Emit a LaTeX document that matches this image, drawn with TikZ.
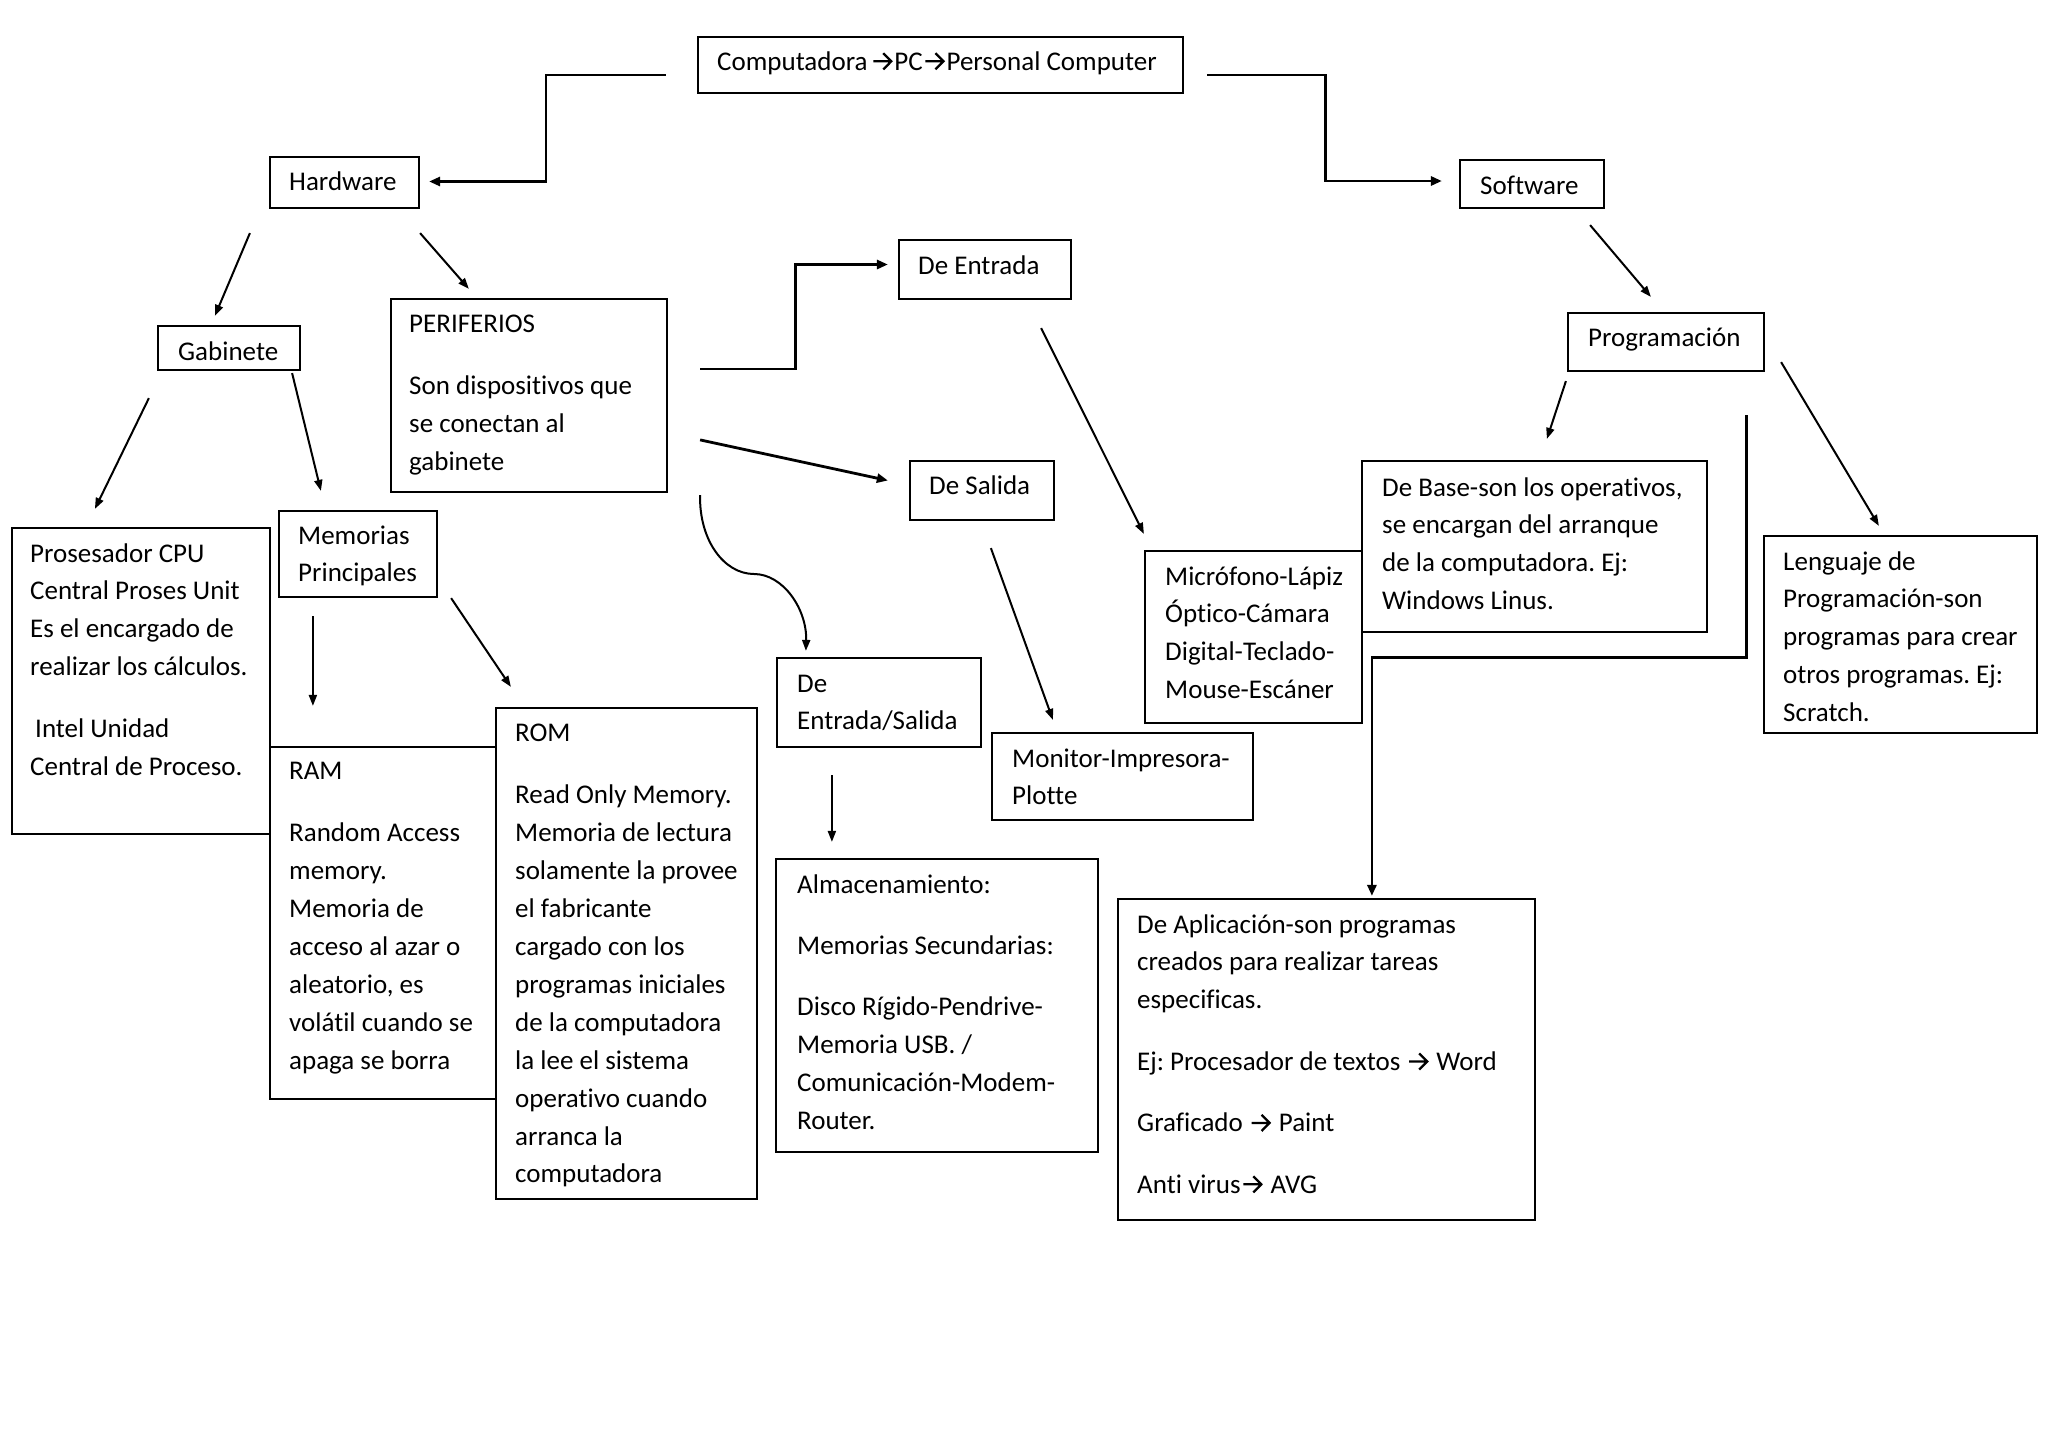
\documentclass[tikz,border=0pt]{standalone}
\usepackage{fontspec}
\setmainfont[Ligatures={NoCommon}]{Carlito}
\usetikzlibrary{arrows.meta,calc,fit}
\newcommand\ar{\hspace{1.5pt}\tikz[baseline=0pt]\draw[line width=2.3pt, line cap=butt, line join=miter] (0pt,8.7pt) -- (18pt,8.7pt) (10pt,0.6pt) -- (18pt,8.7pt) -- (10pt,16.8pt);\hspace{2pt}}
\newcommand\tl[1]{\begin{tabular}[t]{@{}l@{}}#1\end{tabular}}
\frenchspacing
\begin{document}
\begin{tikzpicture}[x=1pt,y=-1pt,
  boxst/.style={draw, line width=2.2pt, inner sep=0pt},
  txt/.style={inner sep=0pt, anchor=base west, font=\fontsize{27pt}{37.9pt}\selectfont\frenchspacing},
  conn/.style={line width=2pt, -{Triangle[length=11pt,width=8pt]}},
  elbow/.style={line width=2.8pt, -{Triangle[length=11pt,width=9pt]}}]
\fill[white] (0,0) rectangle (2048,1448);
\useasboundingbox (0,0) rectangle (2048,1448);

% boxes
\node[boxst, fit={(698,37) (1183,93)}] (comp) {};
\node[boxst, fit={(270,157) (419,208)}] (hw) {};
\node[boxst, fit={(1460,160) (1604,208)}] (sw) {};
\node[boxst, fit={(158,326) (300,370)}] (gab) {};
\node[boxst, fit={(391,299) (667,492)}] (peri) {};
\node[boxst, fit={(899,240) (1071,299)}] (de) {};
\node[boxst, fit={(910,461) (1054,520)}] (ds) {};
\node[boxst, fit={(1568,313) (1764,371)}] (prog) {};
\node[boxst, fit={(12,528) (270,834)}] (proc) {};
\node[boxst, fit={(279,511) (437,597)}] (mem) {};
\node[boxst, fit={(270,747) (496,1099)}] (ram) {};
\node[boxst, fit={(496,708) (757,1199)}] (rom) {};
\node[boxst, fit={(777,658) (981,747)}] (des) {};
\node[boxst, fit={(992,733) (1253,820)}] (mon) {};
\node[boxst, fit={(1145,551) (1362,723)}] (mic) {};
\node[boxst, fit={(1362,461) (1707,632)}] (base) {};
\node[boxst, fit={(1764,536) (2037,733)}] (leng) {};
\node[boxst, fit={(776,859) (1098,1152)}] (alm) {};
\node[boxst, fit={(1118,899) (1535,1220)}] (apl) {};

% texts
\node[txt] (comp-t) at (717,70) {Computadora\hspace{3pt}\ar PC\ar Personal Computer};
\node[txt] (hw-t) at (289,190) {Hardware};
\node[txt] (sw-t) at (1480,194) {Software};
\node[txt] (gab-t) at (178,360) {Gabinete};
\node[txt] (peri-t) at (409,332) {\tl{PERIFERIOS\\[25pt] Son dispositivos que\\ se conectan al\\ gabinete}};
\node[txt] (de-t) at (918,274) {De Entrada};
\node[txt] (ds-t) at (929,494) {De Salida};
\node[txt] (prog-t) at (1588,346) {Programación};
\node[txt] (proc-t) at (30,562) {\tl{Prosesador CPU\\ Central Proses Unit\\ Es el encargado de\\ realizar los cálculos.\\[24pt] \hspace{5pt}Intel Unidad\\ Central de Proceso.}};
\node[txt] (mem-t) at (298,544) {\tl{Memorias\\ Principales}};
\node[txt] (ram-t) at (289,779) {\tl{RAM\\[25pt] Random Access\\ memory.\\ Memoria de\\ acceso al azar o\\ aleatorio, es\\ volátil cuando se\\ apaga se borra}};
\node[txt] (rom-t) at (515,741) {\tl{ROM\\[25pt] Read Only Memory.\\ Memoria de lectura\\ solamente la provee\\ el fabricante\\ cargado con los\\ programas iniciales\\ de la computadora\\ la lee el sistema\\ operativo cuando\\ arranca la\\ computadora}};
\node[txt] (des-t) at (797,692) {\tl{De\\ Entrada/Salida}};
\node[txt] (mon-t) at (1012,767) {\tl{Monitor-Impresora-\\ Plotte}};
\node[txt] (mic-t) at (1165,585) {\tl{Micrófono-Lápiz\\ Óptico-Cámara\\ Digital-Teclado-\\ Mouse-Escáner}};
\node[txt] (base-t) at (1382,496) {\tl{De Base-son los operativos,\\ se encargan del arranque\\ de la computadora. Ej:\\ Windows Linus.}};
\node[txt] (leng-t) at (1783,570) {\tl{Lenguaje de\\ Programación-son\\ programas para crear\\ otros programas. Ej:\\ Scratch.}};
\node[txt] (alm-t) at (797,893) {\tl{Almacenamiento:\\[23.5pt] Memorias Secundarias:\\[23.5pt] Disco Rígido-Pendrive-\\ Memoria USB. /\\ Comunicación-Modem-\\ Router.}};
\node[txt] (apl-t) at (1137,933) {\tl{De Aplicación-son programas\\ creados para realizar tareas\\ especificas.\\[23.5pt] Ej: Procesador de textos \ar{} Word\\[23.5pt] Graficado \ar{} Paint\\[23.5pt] Anti virus\ar{} AVG}};

% connectors
\draw[elbow] ($(comp.west)+(-31,10)$) -- ++(-120,0) |- ($(hw.east)+(9,-1)$);
\draw[elbow] ($(comp.east)+(23,10)$) -- ++(118,0) |- ($(sw.west)+(-17,-3)$);
\draw[conn] ($(hw.south west)+(-19,24)$) -- ($(gab.north west)+(58,-9)$);
\draw[conn] ($(hw.south east)+(0,24)$) -- ($(peri.north west)+(79,-9)$);
\draw[conn] ($(gab.south west)+(-8,27)$) -- ($(proc.north west)+(84,-18)$);
\draw[conn] ($(gab.south east)+(-9,2)$) -- ($(mem.north west)+(43,-19)$);
\draw[conn] ($(mem.south west)+(35,18)$) -- ($(ram.north west)+(44,-40)$);
\draw[conn] ($(mem.south east)+(13,0)$) -- ($(rom.north west)+(16,-20)$);
\draw[elbow] ($(peri.north east)+(32,71)$) -- ++(95,0) |- ($(de.west)+(-10,-5)$);
\draw[elbow] ($(peri.north east)+(32,142)$) -- ($(ds.west)+(-21,-10)$);
\draw[conn] ($(peri.south east)+(32,2)$) .. controls (699,540) and (724,574) .. (754,574)
   .. controls (783,574) and (807,609) .. ($(des.north west)+(30,-6)$);
\draw[conn] ($(des.south west)+(56,27)$) -- ($(alm.north west)+(57,-16)$);
\draw[conn] ($(de.south east)+(-31,28)$) -- ($(mic.north west)+(0,-16)$);
\draw[conn] ($(ds.south west)+(82,27)$) -- ($(mon.north west)+(62,-12)$);
\draw[conn] ($(sw.south east)+(-15,16)$) -- ($(prog.north west)+(84,-15)$);
\draw[conn] ($(prog.south west)+(-1,9)$) -- ($(base.north west)+(186,-21)$);
\draw[conn] ($(prog.south east)+(16,-10)$) -- ($(leng.north west)+(116,-9)$);
\draw[elbow] ($(prog.south east)+(-19,43)$) -- ++(0,242) -| ($(apl.north west)+(255,-2)$);
\end{tikzpicture}
\end{document}
